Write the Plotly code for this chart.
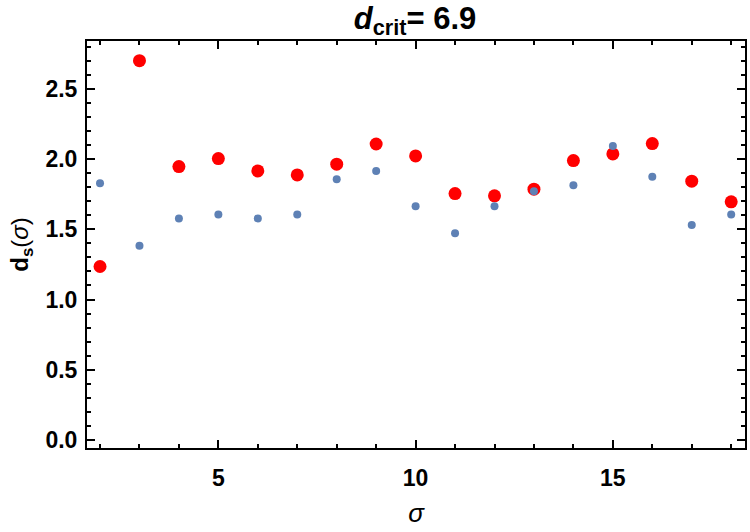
import plotly.graph_objects as go

sigma = list(range(2, 19))
red_vals = [1.235, 2.70, 1.946, 2.003, 1.915, 1.887, 1.963, 2.107, 2.022,
            1.754, 1.738, 1.785, 1.989, 2.036, 2.110, 1.842, 1.695]
blue_vals = [1.828, 1.382, 1.577, 1.605, 1.577, 1.605, 1.856, 1.915, 1.664,
             1.472, 1.664, 1.771, 1.814, 2.093, 1.873, 1.531, 1.605]

FONT = "Liberation Sans"

fig = go.Figure()
fig.add_trace(go.Scatter(x=sigma, y=red_vals, mode="markers",
                         marker=dict(color="#FF0000", size=13, line=dict(width=0)),
                         showlegend=False))
fig.add_trace(go.Scatter(x=sigma, y=blue_vals, mode="markers",
                         marker=dict(color="#5E81B5", size=8, line=dict(width=0)),
                         showlegend=False))

axis_common = dict(showline=True, linecolor="black", linewidth=2, mirror="allticks",
                   ticks="inside", ticklen=8, tickwidth=1.5, tickcolor="black",
                   showgrid=False, zeroline=False,
                   tickfont=dict(family=FONT, size=23, color="black", weight="bold"))

fig.update_xaxes(range=[1.67, 18.35], tick0=0, dtick=5,
                 minor=dict(dtick=1, tick0=0, ticks="inside", ticklen=4, tickwidth=1.5,
                            tickcolor="black", showgrid=False),
                 ticklabelstandoff=8,
                 title=dict(text="<i>σ</i>", font=dict(family=FONT, size=26, color="black"),
                            standoff=14),
                 **axis_common)
fig.update_yaxes(range=[-0.057, 2.84], tick0=0, dtick=0.5, tickformat=".1f",
                 minor=dict(dtick=0.1, tick0=0, ticks="inside", ticklen=4, tickwidth=1.5,
                            tickcolor="black", showgrid=False),
                 ticklabelstandoff=3,
                 title=dict(text="<b>d<sub>s</sub></b>(<i>σ</i>)",
                            font=dict(family=FONT, size=24, color="black"), standoff=10),
                 **axis_common)

fig.update_layout(
    width=750, height=532,
    margin=dict(l=87, r=3, t=41, b=84),
    paper_bgcolor="white", plot_bgcolor="white",
    title=dict(text="<b><i>d</i><sub>crit</sub>= 6.9</b>", x=415 / 750, xanchor="center",
               xref="container", y=1 - 18 / 532, yanchor="middle", yref="container",
               font=dict(family=FONT, size=31, color="black")),
)

fig.write_html("out.html")
